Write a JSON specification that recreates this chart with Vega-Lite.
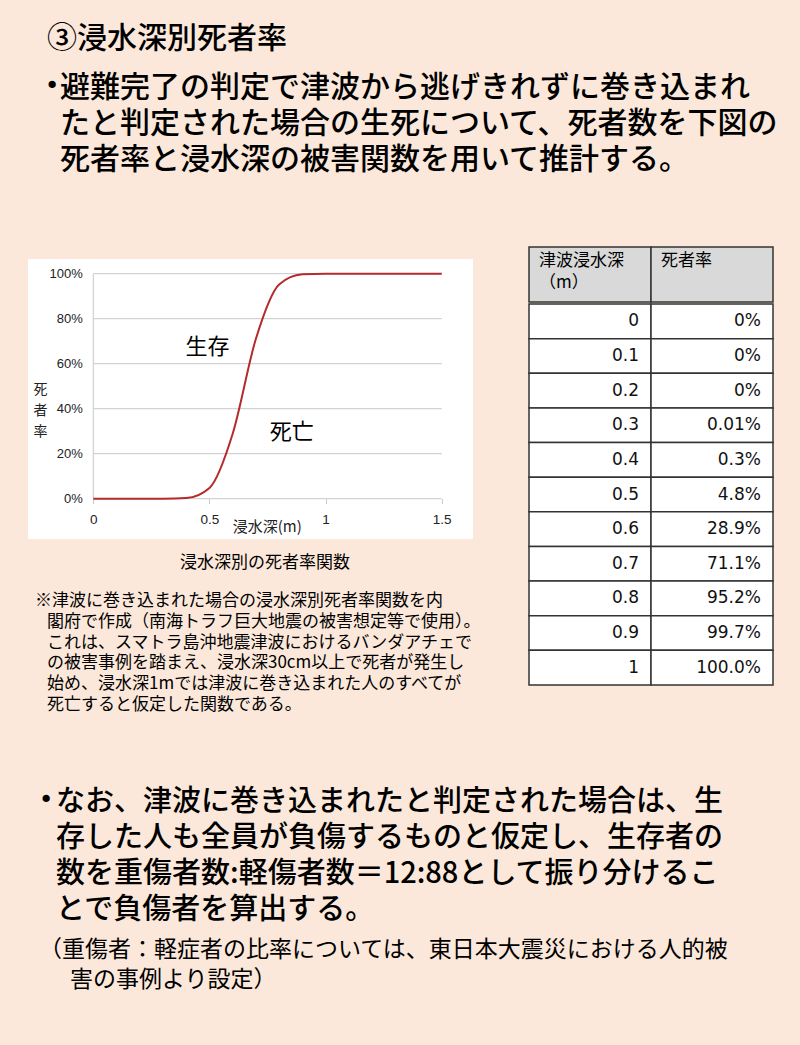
{
  "$schema": "https://vega.github.io/schema/vega-lite/v6.json",
  "background": "#fbe8da",
  "padding": {"left": 28, "top": 0, "right": 0, "bottom": 52},
  "config": {
    "view": {"stroke": null},
    "font": "Noto Sans CJK JP",
    "text": {"font": "Noto Sans CJK JP", "color": "#000000"}
  },
  "datasets": {
    "rates": [
      {"depth": 0, "rate": 0, "label": "0%"},
      {"depth": 0.1, "rate": 0, "label": "0%"},
      {"depth": 0.2, "rate": 0, "label": "0%"},
      {"depth": 0.3, "rate": 0.0001, "label": "0.01%"},
      {"depth": 0.4, "rate": 0.003, "label": "0.3%"},
      {"depth": 0.5, "rate": 0.048, "label": "4.8%"},
      {"depth": 0.6, "rate": 0.289, "label": "28.9%"},
      {"depth": 0.7, "rate": 0.711, "label": "71.1%"},
      {"depth": 0.8, "rate": 0.952, "label": "95.2%"},
      {"depth": 0.9, "rate": 0.997, "label": "99.7%"},
      {"depth": 1, "rate": 1, "label": "100.0%"},
      {"depth": 1.5, "rate": 1, "label": null}
    ],
    "grid": [{"pct": 0}, {"pct": 0.2}, {"pct": 0.4}, {"pct": 0.6}, {"pct": 0.8}, {"pct": 1}],
    "heading": [{"line": 1, "text": "③浸水深別死者率"}],
    "intro": [
      {"line": 1, "text": "避難完了の判定で津波から逃げきれずに巻き込まれ"},
      {"line": 2, "text": "たと判定された場合の生死について、死者数を下図の"},
      {"line": 3, "text": "死者率と浸水深の被害関数を用いて推計する。"}
    ],
    "caption": [{"line": 1, "text": "浸水深別の死者率関数"}],
    "note": [
      {"line": 1, "text": "※津波に巻き込まれた場合の浸水深別死者率関数を内"},
      {"line": 2, "text": "閣府で作成（南海トラフ巨大地震の被害想定等で使用）。"},
      {"line": 3, "text": "これは、スマトラ島沖地震津波におけるバンダアチェで"},
      {"line": 4, "text": "の被害事例を踏まえ、浸水深30cm以上で死者が発生し"},
      {"line": 5, "text": "始め、浸水深1mでは津波に巻き込まれた人のすべてが"},
      {"line": 6, "text": "死亡すると仮定した関数である。"}
    ],
    "outro": [
      {"line": 1, "text": "なお、津波に巻き込まれたと判定された場合は、生"},
      {"line": 2, "text": "存した人も全員が負傷するものと仮定し、生存者の"},
      {"line": 3, "text": "数を重傷者数:軽傷者数＝12:88として振り分けるこ"},
      {"line": 4, "text": "とで負傷者を算出する。"}
    ],
    "remark": [
      {"line": 1, "text": "（重傷者：軽症者の比率については、東日本大震災における人的被"},
      {"line": 2, "text": "害の事例より設定）"}
    ],
    "header": [
      {"col": "depth", "h": "津波浸水深\n（m）"},
      {"col": "label", "h": "死者率"}
    ]
  },
  "spacing": 68,
  "vconcat": [
    {
      "spacing": 0,
      "vconcat": [
        {
          "width": 772,
          "height": {"step": 70},
          "data": {"name": "heading"},
          "mark": {"type": "text", "align": "left", "baseline": "middle", "fontSize": 30, "fontWeight": 500, "dx": 19, "dy": 4},
          "encoding": {
            "y": {"field": "line", "type": "ordinal", "axis": null},
            "x": {"datum": 0, "type": "quantitative", "scale": {"domain": [0, 1]}, "axis": null},
            "text": {"field": "text"}
          }
        },
        {
          "width": 772,
          "height": {"step": 36},
          "data": {"name": "intro"},
          "encoding": {
            "y": {"field": "line", "type": "ordinal", "axis": null},
            "x": {"datum": 0, "type": "quantitative", "scale": {"domain": [0, 1]}, "axis": null}
          },
          "layer": [
            {
              "mark": {"type": "text", "align": "left", "baseline": "middle", "fontSize": 30, "fontWeight": 500, "dx": 32},
              "encoding": {"text": {"field": "text"}}
            },
            {
              "transform": [{"filter": "datum.line == 1"}],
              "mark": {"type": "text", "align": "center", "baseline": "middle", "fontSize": 25, "dx": 24, "dy": -2, "font": "DejaVu Sans", "text": "•"}
            }
          ]
        }
      ]
    },
    {
      "spacing": 47,
      "hconcat": [
        {
          "spacing": 0,
          "vconcat": [
            {
              "width": 445,
              "height": 12,
              "data": {"values": []},
              "mark": "point"
            },
            {
              "width": 445,
              "height": 280,
              "view": {"fill": "#ffffff", "stroke": null},
              "layer": [
                {
                  "data": {"name": "grid"},
                  "mark": {"type": "rule", "color": "#c8c8c8", "strokeWidth": 1},
                  "encoding": {
                    "y": {
                      "field": "pct", "type": "quantitative",
                      "scale": {"domain": [-0.1791, 1.0653], "nice": false, "zero": false},
                      "axis": {
                        "orient": "left", "offset": -65.3, "values": [0, 0.2, 0.4, 0.6, 0.8, 1],
                        "format": ".0%", "domain": false, "ticks": false, "tickSize": 0, "grid": false,
                        "labelPadding": 11, "labelFont": "Liberation Sans", "labelFontSize": 13,
                        "labelColor": "#222222", "labelFlush": false,
                        "title": ["死", "者", "率"], "titleAngle": 0, "titleX": -53.3, "titleY": 130,
                        "titleAlign": "center", "titleBaseline": "middle", "titleFontSize": 14,
                        "titleFontWeight": "normal", "titleLineHeight": 21, "titleColor": "#222222"
                      }
                    },
                    "x": {
                      "datum": 0, "type": "quantitative",
                      "scale": {"domain": [-0.2811, 1.6345], "nice": false, "zero": false},
                      "axis": {
                        "orient": "bottom", "offset": -40.3, "values": [0, 0.5, 1, 1.5], "format": "~g",
                        "domain": false, "ticks": true, "tickSize": 5, "tickColor": "#c8c8c8", "grid": false,
                        "labelPadding": 9, "labelFont": "Liberation Sans", "labelFontSize": 13.5,
                        "labelColor": "#222222", "labelFlush": false,
                        "title": "浸水深(m)", "titleX": 238.7, "titleY": 27.3, "titleAlign": "center",
                        "titleBaseline": "middle", "titleFontSize": 15, "titleFontWeight": "normal",
                        "titleColor": "#222222"
                      }
                    },
                    "x2": {"datum": 1.5}
                  }
                },
                {
                  "data": {"values": [{}]},
                  "mark": {"type": "rule", "color": "#c8c8c8", "strokeWidth": 1},
                  "encoding": {
                    "x": {"datum": 0, "type": "quantitative"},
                    "y": {"datum": 0, "type": "quantitative"},
                    "y2": {"datum": 1}
                  }
                },
                {
                  "data": {"name": "rates"},
                  "mark": {"type": "line", "color": "#b52a2a", "strokeWidth": 2, "interpolate": "monotone"},
                  "encoding": {
                    "x": {"field": "depth", "type": "quantitative"},
                    "y": {"field": "rate", "type": "quantitative"}
                  }
                },
                {
                  "data": {"values": [{}]},
                  "mark": {"type": "text", "fontSize": 22, "text": "生存", "align": "center", "baseline": "middle"},
                  "encoding": {
                    "x": {"datum": 0.492, "type": "quantitative"},
                    "y": {"datum": 0.676, "type": "quantitative"}
                  }
                },
                {
                  "data": {"values": [{}]},
                  "mark": {"type": "text", "fontSize": 22, "text": "死亡", "align": "center", "baseline": "middle"},
                  "encoding": {
                    "x": {"datum": 0.854, "type": "quantitative"},
                    "y": {"datum": 0.297, "type": "quantitative"}
                  }
                }
              ]
            },
            {
              "width": 445,
              "height": {"step": 52},
              "data": {"name": "caption"},
              "mark": {"type": "text", "align": "left", "baseline": "middle", "fontSize": 17, "dx": 152, "dy": -2},
              "encoding": {
                "y": {"field": "line", "type": "ordinal", "axis": null},
                "x": {"datum": 0, "type": "quantitative", "scale": {"domain": [0, 1]}, "axis": null},
                "text": {"field": "text"}
              }
            },
            {
              "width": 445,
              "height": {"step": 20.7},
              "data": {"name": "note"},
              "encoding": {
                "y": {"field": "line", "type": "ordinal", "axis": null},
                "x": {"datum": 0, "type": "quantitative", "scale": {"domain": [0, 1]}, "axis": null},
                "text": {"field": "text"}
              },
              "layer": [
                {
                  "transform": [{"filter": "datum.line == 1"}],
                  "mark": {"type": "text", "align": "left", "baseline": "middle", "fontSize": 17, "dx": 7}
                },
                {
                  "transform": [{"filter": "datum.line > 1"}],
                  "mark": {"type": "text", "align": "left", "baseline": "middle", "fontSize": 17, "dx": 19}
                }
              ]
            }
          ]
        },
        {
          "spacing": 0,
          "vconcat": [
            {
              "width": 244,
              "height": 55,
              "data": {"name": "header"},
              "encoding": {
                "x": {"field": "col", "type": "nominal", "sort": ["depth", "label"], "axis": null,
                      "scale": {"paddingInner": 0, "paddingOuter": 0}}
              },
              "layer": [
                {"mark": {"type": "rect", "fill": "#d9d9d9", "stroke": "#333333", "strokeWidth": 1.5}},
                {
                  "mark": {"type": "text", "align": "left", "baseline": "top", "fontSize": 17, "lineBreak": "\n",
                           "lineHeight": 22, "dx": 10, "dy": -22},
                  "encoding": {
                    "x": {"field": "col", "type": "nominal", "sort": ["depth", "label"], "bandPosition": 0},
                    "text": {"field": "h"}
                  }
                }
              ]
            },
            {
              "width": 244,
              "height": 381,
              "data": {"name": "rates"},
              "transform": [
                {"filter": "datum.depth <= 1"},
                {"fold": ["depth", "label"], "as": ["col", "val"]}
              ],
              "encoding": {
                "x": {"field": "col", "type": "nominal", "sort": ["depth", "label"], "axis": null,
                      "scale": {"paddingInner": 0, "paddingOuter": 0}},
                "y": {"field": "depth", "type": "ordinal", "sort": "ascending", "axis": null,
                      "scale": {"paddingInner": 0, "paddingOuter": 0}}
              },
              "layer": [
                {"mark": {"type": "rect", "fill": "#ffffff", "stroke": "#333333", "strokeWidth": 1.5}},
                {
                  "mark": {"type": "text", "align": "right", "baseline": "middle", "fontSize": 17,
                           "font": "DejaVu Sans", "dx": -12, "color": "#111111"},
                  "encoding": {
                    "x": {"field": "col", "type": "nominal", "sort": ["depth", "label"], "bandPosition": 1},
                    "text": {"field": "val", "type": "nominal"}
                  }
                }
              ]
            }
          ]
        }
      ]
    },
    {
      "spacing": 7,
      "vconcat": [
        {
          "width": 772,
          "height": {"step": 36},
          "data": {"name": "outro"},
          "encoding": {
            "y": {"field": "line", "type": "ordinal", "axis": null},
            "x": {"datum": 0, "type": "quantitative", "scale": {"domain": [0, 1]}, "axis": null}
          },
          "layer": [
            {
              "mark": {"type": "text", "align": "left", "baseline": "middle", "fontSize": 29, "fontWeight": 500, "dx": 28},
              "encoding": {"text": {"field": "text"}}
            },
            {
              "transform": [{"filter": "datum.line == 1"}],
              "mark": {"type": "text", "align": "center", "baseline": "middle", "fontSize": 25, "dx": 18, "dy": -2, "font": "DejaVu Sans", "text": "•"}
            }
          ]
        },
        {
          "width": 772,
          "height": {"step": 30},
          "data": {"name": "remark"},
          "encoding": {
            "y": {"field": "line", "type": "ordinal", "axis": null},
            "x": {"datum": 0, "type": "quantitative", "scale": {"domain": [0, 1]}, "axis": null},
            "text": {"field": "text"}
          },
          "layer": [
            {
              "transform": [{"filter": "datum.line == 1"}],
              "mark": {"type": "text", "align": "left", "baseline": "middle", "fontSize": 23, "dx": 11}
            },
            {
              "transform": [{"filter": "datum.line > 1"}],
              "mark": {"type": "text", "align": "left", "baseline": "middle", "fontSize": 23, "dx": 42}
            }
          ]
        }
      ]
    }
  ]
}
